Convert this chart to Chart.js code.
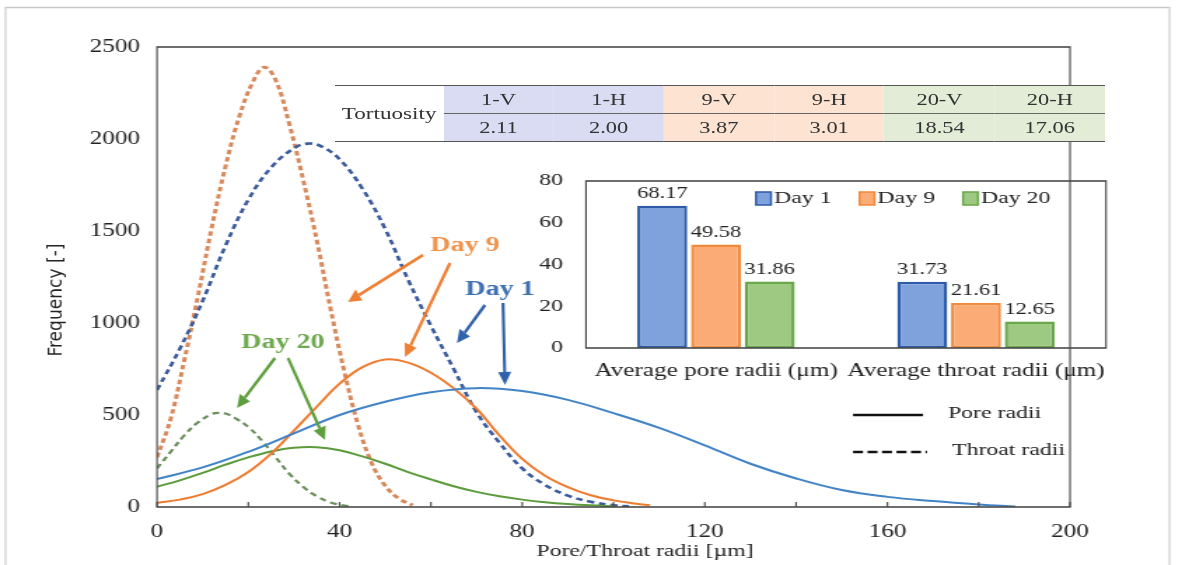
<!DOCTYPE html>
<html>
<head>
<meta charset="utf-8">
<script src="https://cdn.jsdelivr.net/npm/chart.js@4.4.0/dist/chart.umd.min.js"></script>
<style>
html, body { margin: 0; padding: 0; background: #fff; overflow: hidden; }
#wrap { position: absolute; left: 0; top: 0; height: 565px; transform-origin: 0 0; }
#wrap canvas { position: absolute; left: 0; top: 0; }
#tort { position: absolute; border-collapse: collapse; table-layout: fixed;
        font-family: "Liberation Serif", "Times New Roman", serif; font-size: 16px; color: #333; }
#tort td { height: 27px; padding: 0; text-align: center; vertical-align: middle; white-space: nowrap; }
</style>
</head>
<body>
<div id="wrap">
  <canvas id="main"></canvas>
  <canvas id="inset"></canvas>
  <table id="tort"></table>
</div>
<script>
// ---- values ----
const day1PoreX = [0, 10, 20, 30, 40, 50, 60, 70, 80, 90, 100, 110, 120, 130, 140, 150, 160, 170, 180, 188];
const day1PoreY = [152, 215, 300, 400, 500, 572, 624, 646, 630, 582, 510, 430, 335, 235, 155, 92, 55, 32, 14, 3];

const day9PoreX = [0, 5, 10, 15, 20, 25, 30, 35, 40, 45, 50, 55, 60, 65, 70, 75, 80, 85, 90, 95, 100, 105, 108];
const day9PoreY = [22, 40, 70, 120, 190, 290, 415, 545, 670, 760, 802, 785, 730, 645, 535, 390, 262, 170, 108, 64, 36, 18, 10];

const day20PoreX = [0, 5, 10, 15, 20, 25, 30, 35, 40, 45, 50, 55, 60, 65, 70, 75, 80, 85, 90, 95, 100];
const day20PoreY = [110, 145, 185, 230, 270, 302, 322, 325, 308, 275, 235, 190, 150, 113, 82, 58, 40, 26, 16, 9, 4];

const day1ThroatX = [0, 5, 10, 15, 20, 25, 30, 33, 36, 40, 45, 50, 55, 60, 65, 70, 75, 80, 85, 90, 95, 100, 104];
const day1ThroatY = [636, 860, 1120, 1420, 1670, 1845, 1950, 1975, 1960, 1890, 1730, 1510, 1235, 985, 750, 515, 350, 210, 120, 62, 28, 10, 2];

const day9ThroatX = [0, 3, 6, 9, 12, 15, 18, 21, 23.5, 26, 29, 32, 35, 38, 41, 44, 47, 50, 53, 56];
const day9ThroatY = [270, 480, 800, 1150, 1520, 1850, 2120, 2310, 2390, 2320, 2080, 1780, 1450, 1080, 740, 450, 240, 115, 45, 10];

const day20ThroatX = [0, 3, 6, 9, 12, 13.5, 15, 17, 20, 23, 26, 29, 32, 35, 38, 41, 43];
const day20ThroatY = [210, 300, 390, 460, 505, 512, 508, 485, 435, 360, 270, 180, 110, 58, 25, 8, 2];

// inset bar chart
const barCategories = ['Average pore radii (μm)', 'Average throat radii (μm)'];
const barDays = ['Day 1', 'Day 9', 'Day 20'];
const avgDay1 = [68.17, 31.73];
const avgDay9 = [49.58, 21.61];
const avgDay20 = [31.86, 12.65];

// tortuosity table
const tortLabels = ['1-V', '1-H', '9-V', '9-H', '20-V', '20-H'];
const tortValues = [2.11, 2.00, 3.87, 3.01, 18.54, 17.06];

// ---- page setup: the figure is horizontally stretched, so draw narrow and scale x ----
const W = 844;
const H = 565;
const SX = 1182 / W;
const px = v => v / SX;          // page x -> canvas x
const serif = '"Liberation Serif", "Times New Roman", serif';

const wrap = document.getElementById('wrap');
wrap.style.width = W + 'px';
wrap.style.transform = `scaleX(${SX})`;
for (const id of ['main', 'inset']) {
    const c = document.getElementById(id);
    c.width = W;
    c.height = H;
}

Chart.defaults.font.family = serif;
Chart.defaults.color = '#222';

// ---- table ----
const tortBg = ['#dadcf3', '#dadcf3', '#fde3d2', '#fde3d2', '#e3ecd7', '#e3ecd7'];
const tort = document.getElementById('tort');
tort.style.left = px(335) + 'px';
tort.style.top = '85px';
tort.style.width = px(1105 - 335) + 'px';
let html = `<colgroup><col style="width:${px(108)}px">` +
    tortLabels.map(() => `<col style="width:${px(110)}px">`).join('') + '</colgroup>';
html += '<tr style="border-top:1.5px solid #555">' +
    `<td rowspan="2" style="font-size:16.5px;border-bottom:1.5px solid #555">Tortuosity</td>` +
    tortLabels.map((l, i) => `<td style="background:${tortBg[i]}">${l}</td>`).join('') + '</tr>';
html += '<tr style="border-bottom:1.5px solid #555">' +
    tortValues.map((v, i) => `<td style="background:${tortBg[i]};border-top:1px solid #666">${v.toFixed(2)}</td>`).join('') + '</tr>';
tort.innerHTML = html;

// ---- helpers ----
function series(label, xs, ys, color, width, dash) {
    return {
        label,
        data: xs.map((x, i) => ({ x, y: ys[i] })),
        borderColor: color,
        borderWidth: width,
        borderDash: dash,
        pointRadius: 0,
        fill: false,
        tension: 0.4
    };
}

// arrow in page pixels (ctx already scaled back by 1/SX)
function arrow(ctx, x1, y1, x2, y2, color) {
    const ang = Math.atan2(y2 - y1, x2 - x1);
    const hl = 13, hw = 6.5;
    const bx = x2 - hl * Math.cos(ang), by = y2 - hl * Math.sin(ang);
    ctx.strokeStyle = color;
    ctx.lineWidth = 3;
    ctx.setLineDash([]);
    ctx.beginPath();
    ctx.moveTo(x1, y1);
    ctx.lineTo(bx, by);
    ctx.stroke();
    ctx.fillStyle = color;
    ctx.beginPath();
    ctx.moveTo(x2, y2);
    ctx.lineTo(bx + hw * Math.sin(ang), by - hw * Math.cos(ang));
    ctx.lineTo(bx - hw * Math.sin(ang), by + hw * Math.cos(ang));
    ctx.closePath();
    ctx.fill();
}

const mainDecor = {
    id: 'mainDecor',
    afterDraw(chart) {
        const { ctx, chartArea: a, scales: { x } } = chart;

        ctx.save();
        ctx.scale(1 / SX, 1);
        // outer frame of the figure
        ctx.strokeStyle = '#c8c8c8';
        ctx.lineWidth = 1.5;
        ctx.strokeRect(5.5, 7.5, 1164, 620);
        // plot box
        ctx.strokeStyle = '#4a4a4a';
        ctx.lineWidth = 1.6;
        ctx.strokeRect(a.left * SX, a.top, (a.right - a.left) * SX, a.bottom - a.top);
        // inner tick marks on the x axis
        ctx.beginPath();
        x.ticks.forEach(t => {
            const tx = x.getPixelForValue(t.value) * SX;
            ctx.moveTo(tx, a.bottom);
            ctx.lineTo(tx, a.bottom - 5);
        });
        ctx.stroke();

        // annotation arrows
        arrow(ctx, 423, 255, 348, 302, '#ee7f33');
        arrow(ctx, 450, 263, 405, 357, '#ee7f33');
        arrow(ctx, 485, 305, 457, 343, '#2f62ab');
        arrow(ctx, 503, 303, 505, 385, '#2f62ab');
        arrow(ctx, 275, 358, 237, 408, '#5e9e3e');
        arrow(ctx, 288, 358, 325, 440, '#5e9e3e');

        // line-style legend
        ctx.strokeStyle = '#111';
        ctx.lineWidth = 2.5;
        ctx.beginPath();
        ctx.moveTo(853, 415);
        ctx.lineTo(923, 415);
        ctx.stroke();
        ctx.setLineDash([10, 4.5]);
        ctx.beginPath();
        ctx.moveTo(853, 452);
        ctx.lineTo(927, 452);
        ctx.stroke();
        ctx.setLineDash([]);

        // y axis title (narrow sans, not stretched)
        ctx.translate(56, 300);
        ctx.rotate(-Math.PI / 2);
        ctx.fillStyle = '#222';
        ctx.font = '19px "Liberation Sans Narrow", "DejaVu Sans Condensed", "Liberation Sans", sans-serif';
        ctx.textAlign = 'center';
        ctx.textBaseline = 'middle';
        ctx.fillText('Frequency [-]', 0, 0);
        ctx.restore();

        // stretched texts
        ctx.save();
        ctx.textBaseline = 'middle';
        ctx.textAlign = 'center';
        ctx.font = `bold 20px ${serif}`;
        ctx.fillStyle = '#f0934c';
        ctx.fillText('Day 9', px(465), 246);
        ctx.fillStyle = '#3e70b2';
        ctx.fillText('Day 1', px(500), 290);
        ctx.fillStyle = '#6ea84e';
        ctx.fillText('Day 20', px(283), 343);

        ctx.fillStyle = '#222';
        ctx.font = `17px ${serif}`;
        ctx.fillText('Pore/Throat radii [µm]', px(645), 552);

        ctx.textAlign = 'left';
        ctx.font = `17px ${serif}`;
        ctx.fillText('Pore radii', px(948), 414);
        ctx.fillText('Throat radii', px(952), 451);
        ctx.restore();
    }
};

new Chart(document.getElementById('main'), {
    type: 'line',
    data: {
        datasets: [
            series('Day 1 pore', day1PoreX, day1PoreY, '#4183c6', 2, []),
            series('Day 9 pore', day9PoreX, day9PoreY, '#ee7b30', 2, []),
            series('Day 20 pore', day20PoreX, day20PoreY, '#5c9b3b', 2, []),
            series('Day 1 throat', day1ThroatX, day1ThroatY, '#3b5b9c', 2.6, [5, 3.5]),
            series('Day 9 throat', day9ThroatX, day9ThroatY, '#d8895c', 3, [4.5, 3]),
            series('Day 20 throat', day20ThroatX, day20ThroatY, '#6b8e5b', 2.2, [5, 3.5])
        ]
    },
    options: {
        responsive: false,
        animation: false,
        devicePixelRatio: 1,
        layout: { padding: { left: 0, right: W - px(1070), top: 47, bottom: 0 } },
        plugins: { legend: { display: false }, tooltip: { enabled: false } },
        scales: {
            x: {
                type: 'linear',
                min: 0,
                max: 200,
                grid: { display: false, drawTicks: false },
                border: { display: false },
                ticks: {
                    stepSize: 20,
                    autoSkip: false,
                    maxRotation: 0,
                    padding: 14,
                    font: { size: 18 },
                    callback: v => (v % 40 === 0 ? String(v) : '')
                },
                afterFit(s) { s.height = 58; }
            },
            y: {
                min: 0,
                max: 2500,
                grid: { display: false, drawTicks: false },
                border: { display: false },
                ticks: { stepSize: 500, padding: px(17), font: { size: 18 }, callback: v => String(v) },
                afterFit(s) { s.width = px(157); }
            }
        }
    },
    plugins: [mainDecor]
});

// ---- inset bar chart ----
const barFill = ['#7fa2dd', '#fbac76', '#9ec983'];
const barLine = ['#2d5ba8', '#f08a3e', '#69a74a'];

const insetDecor = {
    id: 'insetDecor',
    afterDraw(chart) {
        const { ctx, chartArea: a } = chart;
        ctx.save();
        ctx.scale(1 / SX, 1);
        ctx.strokeStyle = '#4a4a4a';
        ctx.lineWidth = 1.6;
        ctx.strokeRect(a.left * SX, a.top, (a.right - a.left) * SX, a.bottom - a.top);
        ctx.restore();

        ctx.save();
        // value labels
        ctx.font = `16px ${serif}`;
        ctx.fillStyle = '#222';
        ctx.textAlign = 'center';
        ctx.textBaseline = 'bottom';
        chart.data.datasets.forEach((ds, di) => {
            chart.getDatasetMeta(di).data.forEach((bar, i) => {
                ctx.fillText(ds.data[i].toFixed(2), bar.x, bar.y - 4);
            });
        });
        // legend
        ctx.font = `17px ${serif}`;
        ctx.textAlign = 'left';
        ctx.textBaseline = 'middle';
        let lx = px(756);
        chart.data.datasets.forEach((ds, di) => {
            ctx.fillStyle = ds.backgroundColor;
            ctx.fillRect(lx, 192, px(15), 13);
            ctx.strokeStyle = ds.borderColor;
            ctx.lineWidth = 1.5;
            ctx.strokeRect(lx, 192, px(15), 13);
            ctx.fillStyle = '#222';
            ctx.fillText(ds.label, lx + px(18), 199);
            lx += px(18) + ctx.measureText(ds.label).width + px(28);
        });
        ctx.restore();
    }
};

new Chart(document.getElementById('inset'), {
    type: 'bar',
    data: {
        labels: barCategories,
        datasets: [avgDay1, avgDay9, avgDay20].map((d, i) => ({
            label: barDays[i],
            data: d,
            backgroundColor: barFill[i],
            borderColor: barLine[i],
            borderWidth: 2.4,
            borderSkipped: false,
            categoryPercentage: 0.62,
            barPercentage: 0.93
        }))
    },
    options: {
        responsive: false,
        animation: false,
        devicePixelRatio: 1,
        layout: { padding: { left: px(530), right: W - px(1106), top: 181, bottom: 177 } },
        plugins: { legend: { display: false }, tooltip: { enabled: false } },
        scales: {
            x: {
                grid: { display: false, drawTicks: false },
                border: { display: false },
                ticks: { autoSkip: false, maxRotation: 0, padding: 12, font: { size: 18 } },
                afterFit(s) { s.height = 40; }
            },
            y: {
                min: 0,
                max: 80,
                grid: { display: false, drawTicks: false },
                border: { display: false },
                ticks: { stepSize: 20, padding: px(23), font: { size: 17 } },
                afterFit(s) { s.width = px(56); }
            }
        }
    },
    plugins: [insetDecor]
});
</script>
</body>
</html>
